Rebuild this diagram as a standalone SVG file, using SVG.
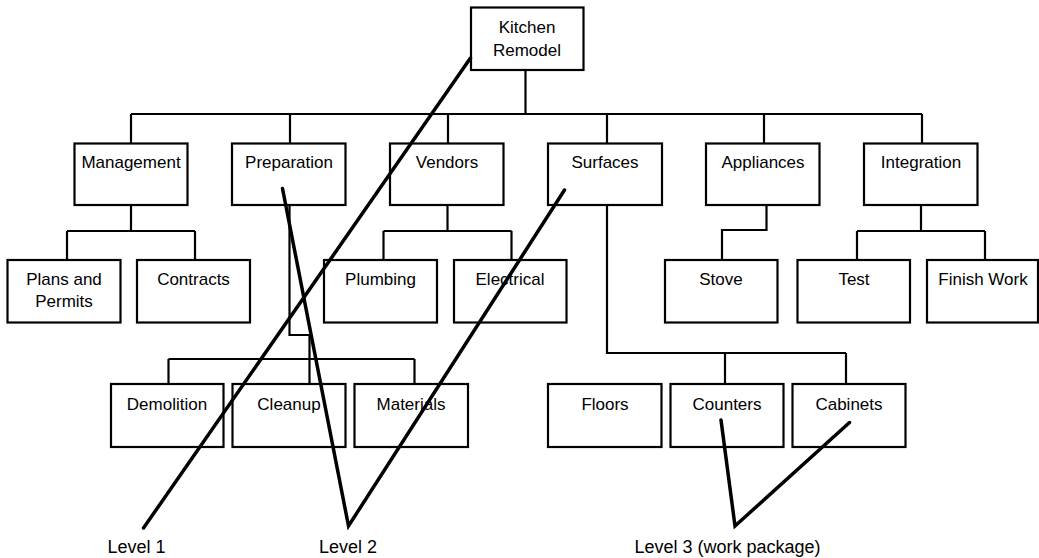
<svg xmlns="http://www.w3.org/2000/svg" width="1039" height="558" viewBox="0 0 1039 558">
<style>
.box{fill:#fff;stroke:#000;stroke-width:2.2}
.t{font-family:"Liberation Sans",Arial,sans-serif;font-size:17px;text-anchor:middle;fill:#000}
.lbl{font-family:"Liberation Sans",Arial,sans-serif;font-size:18px;text-anchor:middle;fill:#000}
.c{fill:none;stroke:#000;stroke-width:2.2}
.a{fill:none;stroke:#000;stroke-width:3.5;stroke-linecap:round;stroke-linejoin:miter}
</style>
<rect width="1039" height="558" fill="#fff"/>
<g id="connectors">
<path class="c" d="M525.5 70V114M131 114H922M131 114V143M290 114V143M448 114V143M607 114V143M764 114V143M922 114V143"/>
<path class="c" d="M131 205V231M67 231H195M67 231V260M195 231V260"/>
<path class="c" d="M447.5 205V231M383.5 231H511.5M383.5 231V260M511.5 231V260"/>
<path class="c" d="M766.5 205V230H722V260"/>
<path class="c" d="M921 205V231M857 231H985M857 231V260M985 231V260"/>
<path class="c" d="M289.5 205V335H309.5V384M168.5 359H414.5M168.5 359V384M414.5 359V384"/>
<path class="c" d="M607 205V353H846M725 353V384M846 353V384"/>
</g>
<g id="n-kitchen"><rect class="box" x="471" y="7.5" width="112.5" height="62.5"/><text class="t" x="527" y="33">Kitchen</text><text class="t" x="527" y="56">Remodel</text></g>
<g id="n-management"><rect class="box" x="74.5" y="143.5" width="113" height="61.5"/><text class="t" x="131" y="168">Management</text></g>
<g id="n-preparation"><rect class="box" x="232" y="143.5" width="113.5" height="61.5"/><text class="t" x="289" y="168">Preparation</text></g>
<g id="n-vendors"><rect class="box" x="390" y="143.5" width="113.5" height="61.5"/><text class="t" x="447" y="168">Vendors</text></g>
<g id="n-surfaces"><rect class="box" x="548" y="143.5" width="114" height="61.5"/><text class="t" x="605" y="168">Surfaces</text></g>
<g id="n-appliances"><rect class="box" x="706" y="143.5" width="113.5" height="61.5"/><text class="t" x="763" y="168">Appliances</text></g>
<g id="n-integration"><rect class="box" x="864" y="143.5" width="113.5" height="61.5"/><text class="t" x="921" y="168">Integration</text></g>
<g id="n-plans"><rect class="box" x="7.5" y="260" width="113" height="62.5"/><text class="t" x="64" y="285">Plans and</text><text class="t" x="64" y="306.5">Permits</text></g>
<g id="n-contracts"><rect class="box" x="137" y="260" width="113" height="62.5"/><text class="t" x="193.5" y="285">Contracts</text></g>
<g id="n-plumbing"><rect class="box" x="324" y="260" width="113" height="62.5"/><text class="t" x="380.5" y="285">Plumbing</text></g>
<g id="n-electrical"><rect class="box" x="454" y="260" width="112.5" height="62.5"/><text class="t" x="510" y="285">Electrical</text></g>
<g id="n-stove"><rect class="box" x="665" y="260" width="112.5" height="62.5"/><text class="t" x="721" y="285">Stove</text></g>
<g id="n-test"><rect class="box" x="797.5" y="260" width="112.5" height="62.5"/><text class="t" x="854" y="285">Test</text></g>
<g id="n-finish"><rect class="box" x="927" y="260" width="111" height="62.5"/><text class="t" x="983" y="285">Finish Work</text></g>
<g id="n-demolition"><rect class="box" x="111" y="384" width="112.5" height="63"/><text class="t" x="167" y="410">Demolition</text></g>
<g id="n-cleanup"><rect class="box" x="232.5" y="384" width="113" height="63"/><text class="t" x="289" y="410">Cleanup</text></g>
<g id="n-materials"><rect class="box" x="354.5" y="384" width="113.5" height="63"/><text class="t" x="411" y="410">Materials</text></g>
<g id="n-floors"><rect class="box" x="548" y="384" width="113.5" height="63"/><text class="t" x="605" y="410">Floors</text></g>
<g id="n-counters"><rect class="box" x="670.5" y="384" width="113" height="63"/><text class="t" x="727" y="410">Counters</text></g>
<g id="n-cabinets"><rect class="box" x="792.5" y="384" width="113" height="63"/><text class="t" x="849" y="410">Cabinets</text></g>
<g id="annotations">
<path class="a" d="M470.5 58L143.5 528"/>
<path class="a" d="M282.5 188.5L348.5 526L564.5 190"/>
<path class="a" d="M721 420L735 526L849.5 422.5"/>
<text class="lbl" x="136.5" y="553">Level 1</text>
<text class="lbl" x="348" y="553">Level 2</text>
<text class="lbl" x="727.5" y="553">Level 3 (work package)</text>
</g>
</svg>
